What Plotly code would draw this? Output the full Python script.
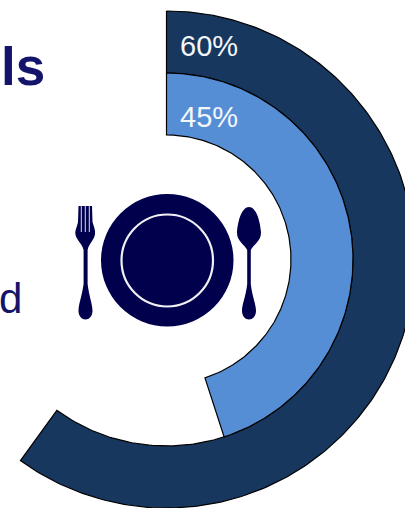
import numpy as np
import plotly.graph_objects as go

# Concentric progress rings, outermost first
ring_names = ["Outer", "Inner"]
ring_values = [60, 45]
ring_colors = ["#17375E", "#558ED5"]
ring_radii = [(186.5, 248.5), (124.5, 186.5)]
label_y = [46, 117]

CX, CY = 166.5, 259.5
NAVY = "#00004D"
TEXT = "#14146A"
FONT = "Liberation Sans"


def ring_outline(value, r_in, r_out):
    """Closed outline of a ring sector running clockwise from 12 o'clock."""
    t = np.radians(np.linspace(0, value / 100 * 360, 240))
    xs = np.concatenate([CX + r_out * np.sin(t), CX + r_in * np.sin(t[::-1])])
    ys = np.concatenate([CY - r_out * np.cos(t), CY - r_in * np.cos(t[::-1])])
    return np.append(xs, xs[0]), np.append(ys, ys[0])


fig = go.Figure()
for name, value, color, (r_in, r_out) in zip(ring_names, ring_values, ring_colors, ring_radii):
    xs, ys = ring_outline(value, r_in, r_out)
    fig.add_trace(go.Scatter(
        x=xs, y=ys, name=name, mode="lines", fill="toself", fillcolor=color,
        line=dict(color="#000000", width=1.2), hoverinfo="skip", showlegend=False,
    ))

# Percentage labels at the start of each ring
annotations = [
    dict(x=178, y=y, text=f"{v}%", xanchor="left", yanchor="middle", showarrow=False,
         font=dict(family=FONT, size=29, color="#F4F6FA"))
    for v, y in zip(ring_values, label_y)
]
# Fragments of the heading and body copy at the left edge
annotations += [
    dict(x=0, y=66.5, xshift=-1, text="<b>ls</b>", xanchor="left", yanchor="middle", showarrow=False,
         font=dict(family=FONT, size=53, color=TEXT)),
    dict(x=0, y=298, xshift=-3, text="d", xanchor="left", yanchor="middle", showarrow=False,
         font=dict(family=FONT, size=42, color=TEXT)),
]

FORK = ("M 78.5 206 L 92 206 L 92.5 222 C 94 227 95.5 230 95 234 C 94.5 240 89 243 87.6 250 "
        "L 87.6 284 C 89 296 92.5 304 92.5 311 C 92.5 316 89 319.5 85.5 319.5 "
        "C 82 319.5 78.5 316 78.5 311 C 78.5 304 82 296 83.6 284 L 83.6 250 "
        "C 82 243 76 240 75.4 234 C 75 230 77 227 78 222 Z")
SPOON = ("M 249 207 C 256 207 260 220 261 232 C 261.5 241 253 245 250.8 250 "
         "L 250.8 284 C 252 296 256 304 256 311 C 256 316 252.5 319.5 249 319.5 "
         "C 245.5 319.5 242 316 242 311 C 242 304 246 296 247.2 284 L 247.2 250 "
         "C 245 245 236.5 241 237 232 C 238 220 242 207 249 207 Z")

shapes = [
    dict(type="circle", x0=101, x1=233.5, y0=194, y1=326.5,
         fillcolor=NAVY, line=dict(width=0), layer="above"),
    dict(type="circle", x0=121.5, x1=213, y0=214.5, y1=306.5,
         fillcolor="rgba(0,0,0,0)", line=dict(color="#F0F0F5", width=2.2), layer="above"),
    dict(type="path", path=FORK, fillcolor=NAVY, line=dict(width=0), layer="above"),
    dict(type="path", path=SPOON, fillcolor=NAVY, line=dict(width=0), layer="above"),
]
# Slots between the fork tines
for slot_x in (81.3, 85.3, 89.3):
    shapes.append(dict(type="line", x0=slot_x, x1=slot_x, y0=206, y1=232,
                       line=dict(color="#DCDCEA", width=1), layer="above"))

fig.update_layout(
    width=405, height=508, margin=dict(l=0, r=0, t=0, b=0),
    paper_bgcolor="#FFFFFF", plot_bgcolor="#FFFFFF", showlegend=False,
    xaxis=dict(range=[0, 405], visible=False, fixedrange=True),
    yaxis=dict(range=[508, 0], visible=False, fixedrange=True),
    annotations=annotations, shapes=shapes,
)

fig.write_html("out.html", config={"displayModeBar": False})
